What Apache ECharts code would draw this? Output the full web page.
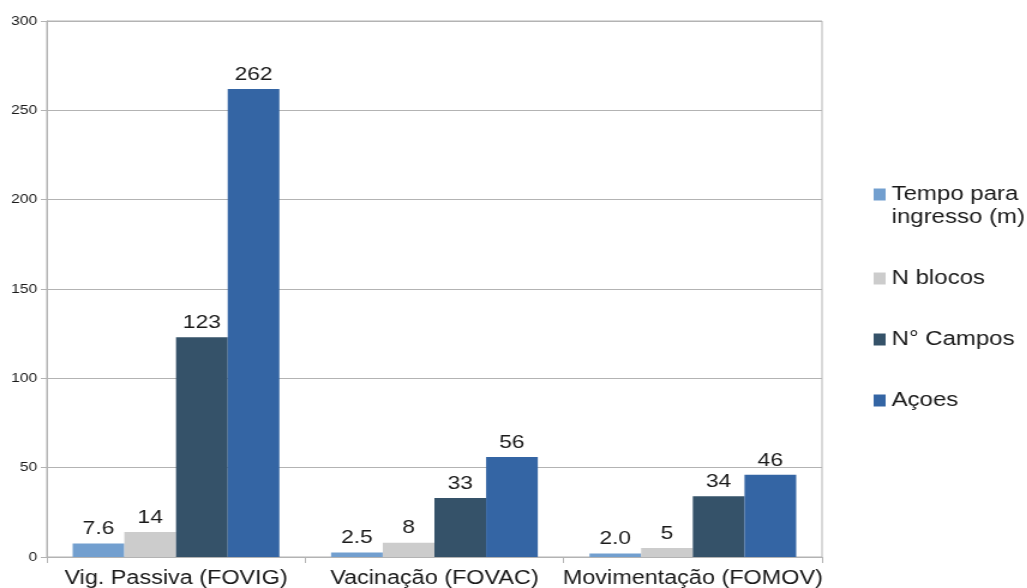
<!DOCTYPE html>
<html>
<head>
<meta charset="utf-8">
<script src="https://cdn.jsdelivr.net/npm/echarts@6/dist/echarts.min.js"></script>
<style>
  html, body { margin: 0; padding: 0; background: #ffffff; overflow: hidden; }
  /* The chart is drawn narrower and widened horizontally, giving the wide lettering of the original export */
  #chart { width: 856px; height: 588px; transform: scaleX(1.2); transform-origin: 0 0; }
</style>
</head>
<body>
<div id="chart"></div>
<script>
// Categories and series values
const categories = ['Vig. Passiva (FOVIG)', 'Vacinação (FOVAC)', 'Movimentação (FOMOV)'];
const seriesNames = ['Tempo para ingresso (m)', 'N blocos', 'N° Campos', 'Açoes'];
const tempoIngresso = [7.6, 2.5, 2.0];
const nBlocos = [14, 8, 5];
const nCampos = [123, 33, 34];
const acoes = [262, 56, 46];
const yTicks = { min: 0, max: 300, interval: 50 };

const colors = ['#729fcf', '#cccccc', '#355269', '#3465a4'];
const seriesData = [tempoIngresso, nBlocos, nCampos, acoes];
const decimals = [1, 0, 0, 0];

const FONT = 'Liberation Sans, Arial, sans-serif';
const chart = echarts.init(document.getElementById('chart'));

chart.setOption({
  animation: false,
  color: colors,
  grid: {
    left: 39, right: 171, top: 21, bottom: 31,
    outerBoundsMode: 'none',
    show: true, borderColor: '#b3b3b3', borderWidth: 1
  },
  legend: {
    orient: 'vertical',
    left: 728,
    top: 160,
    padding: 0,
    itemWidth: 10,
    itemHeight: 12,
    itemGap: 38,
    icon: 'rect',
    data: seriesNames,
    textStyle: {
      fontFamily: FONT,
      fontSize: 20,
      color: '#1a1a1a',
      lineHeight: 23
    },
    // the long name wraps onto two lines; an empty leading line keeps the
    // marker level with the first line of text
    formatter: function (name) {
      return name === seriesNames[0] ? '\nTempo para\ningresso (m)' : name;
    }
  },
  xAxis: {
    type: 'category',
    data: categories,
    axisLine: { lineStyle: { color: '#b3b3b3' } },
    axisTick: { show: true, length: 6, lineStyle: { color: '#b3b3b3' } },
    axisLabel: {
      interval: 0,
      margin: 12,
      fontFamily: FONT,
      fontSize: 19.5,
      color: '#1a1a1a'
    }
  },
  yAxis: {
    type: 'value',
    min: yTicks.min,
    max: yTicks.max,
    interval: yTicks.interval,
    axisLine: { show: true, lineStyle: { color: '#b3b3b3' } },
    axisTick: { show: true, length: 5, lineStyle: { color: '#b3b3b3' } },
    axisLabel: {
      margin: 8,
      fontFamily: FONT,
      fontSize: 13,
      color: '#1a1a1a'
    },
    splitLine: { lineStyle: { color: '#b3b3b3' } }
  },
  series: seriesNames.map(function (name, i) {
    return {
      name: name,
      type: 'bar',
      data: seriesData[i],
      barGap: '0%',
      barCategoryGap: '20%',
      itemStyle: { color: colors[i] },
      label: {
        show: true,
        position: 'top',
        distance: 5,
        fontFamily: FONT,
        fontSize: 19,
        color: '#1a1a1a',
        formatter: function (p) { return p.value.toFixed(decimals[i]); }
      }
    };
  })
});
</script>
</body>
</html>
